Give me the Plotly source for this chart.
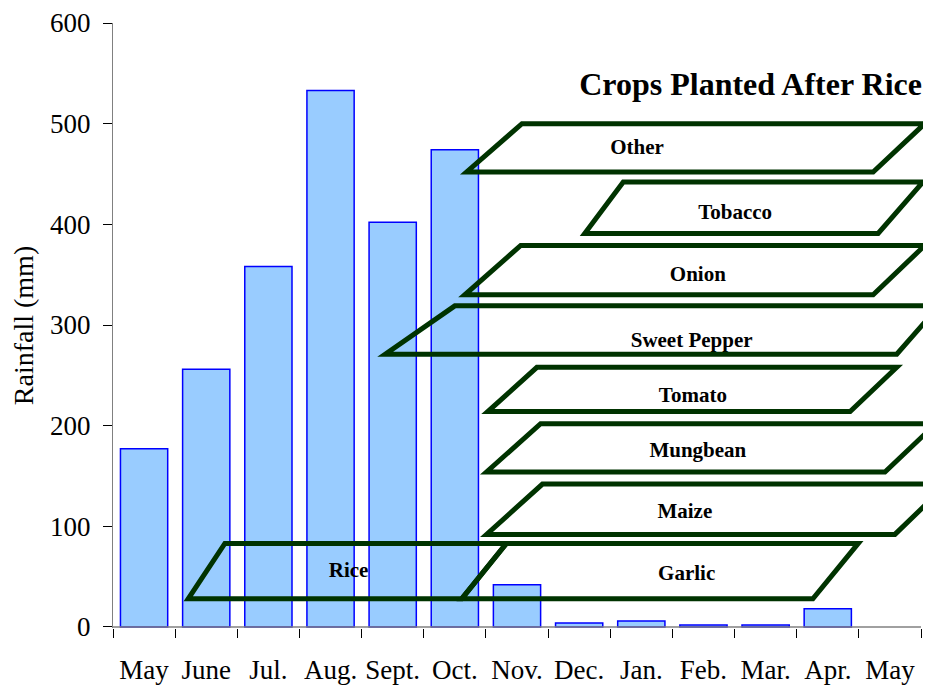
import plotly.graph_objects as go

# ---- data ----
months = ["May", "June", "Jul.", "Aug.", "Sept.", "Oct.", "Nov.", "Dec.",
          "Jan.", "Feb.", "Mar.", "Apr.", "May"]
rainfall = [177, 256, 358, 533, 402, 474, 42, 4, 6, 2, 2, 18]

y_ticks = [0, 100, 200, 300, 400, 500, 600]

crops = ["Rice", "Garlic", "Maize", "Mungbean", "Tomato",
         "Sweet Pepper", "Onion", "Tobacco", "Other"]
# crop season bands (x in month-slot units, y in mm)
band_bottom_start = [0.71, 5.11, 5.51, 5.51, 5.53, 3.88, 5.16, 7.09, 5.19]
band_bottom_end = [5.11, 10.76, 12.08, 11.92, 11.36, 12.11, 11.73, 11.81, 11.73]
band_top_start = [1.30, 5.83, 6.41, 6.38, 6.32, 5.00, 6.06, 7.71, 6.08]
band_top_end = [5.83, 11.49, 12.92, 12.74, 12.11, 12.79, 12.56, 12.53, 12.56]
band_low = [28, 28, 92, 154, 214, 271, 330, 391, 452]
band_high = [83, 83, 142, 202, 258, 319, 379, 442, 500]
label_x = [3.29, 8.73, 8.70, 8.91, 8.83, 8.81, 8.91, 9.51, 7.93]
label_y = [55, 52, 113, 174, 229, 283, 349, 411, 475]

SERIF = "Liberation Serif"
n = len(months)
centers = list(range(n))
boundaries = [i - 0.5 for i in range(n + 1)]

# the page body adds an 8px offset; layout below compensates for it
PAGE_OFF = 8
SLOT = 808 / 13
L, T, B = 113 - PAGE_OFF, 23 - PAGE_OFF, 57 + PAGE_OFF
W, H = 931, 685
plot_w = W - L

fig = go.Figure()

fig.add_trace(go.Bar(
    x=list(range(len(rainfall))), y=rainfall, width=0.76,
    marker=dict(color="#99CCFF", line=dict(color="#0000FF", width=1.5)),
    showlegend=False, hoverinfo="x+y",
))

# x axis base line (only across the 13 month slots)
fig.add_trace(go.Scatter(
    x=[boundaries[0], boundaries[-1]], y=[0, 0], mode="lines",
    line=dict(color="#808080", width=1.3), showlegend=False, hoverinfo="skip",
))

# crop labels
fig.add_trace(go.Scatter(
    x=label_x, y=label_y, mode="text", text=crops,
    textposition="middle center",
    textfont=dict(family=SERIF, size=21, color="black", weight="bold"),
    showlegend=False, hoverinfo="text",
))

shapes = []
for bl, br, tl, tr, lo, hi in zip(band_bottom_start, band_bottom_end,
                                  band_top_start, band_top_end,
                                  band_low, band_high):
    shapes.append(dict(
        type="path", xref="x", yref="y", layer="above",
        path=f"M {bl},{lo} L {br},{lo} L {tr},{hi} L {tl},{hi} Z",
        line=dict(color="#003300", width=5),
        fillcolor="rgba(0,0,0,0)",
    ))

fig.update_layout(
    width=W, height=H,
    margin=dict(l=L, r=0, t=T, b=B, autoexpand=False),
    paper_bgcolor="white", plot_bgcolor="white",
    font=dict(family=SERIF, color="black"),
    shapes=shapes,
    title=dict(
        text="Crops Planted After Rice",
        font=dict(family=SERIF, size=32, color="black", weight="bold"),
        xref="container", x=(922 - PAGE_OFF) / W, xanchor="right",
        yref="container", y=1 - (84 - PAGE_OFF) / H, yanchor="middle",
    ),
    xaxis=dict(
        range=[-0.5, -0.5 + plot_w / SLOT],
        tickmode="array", tickvals=centers, ticktext=months,
        ticks="", tickfont=dict(family=SERIF, size=27, color="black"),
        ticklabelstandoff=23,
        minor=dict(tickmode="array", tickvals=boundaries, ticks="outside",
                   ticklen=9, tickcolor="black", tickwidth=1),
        showline=False, showgrid=False, zeroline=False, automargin=False,
    ),
    yaxis=dict(
        range=[-1, 600],
        tickmode="array", tickvals=y_ticks,
        ticks="outside", ticklen=9, tickcolor="black", tickwidth=1,
        tickfont=dict(family=SERIF, size=27, color="black"),
        ticklabelstandoff=7,
        showline=True, linecolor="#808080", linewidth=1.3,
        showgrid=False, zeroline=False, automargin=False,
        title=dict(text="Rainfall (mm)", standoff=10,
                   font=dict(family=SERIF, size=28, color="black")),
    ),
    bargap=0.24,
)

fig.write_html("out.html")
